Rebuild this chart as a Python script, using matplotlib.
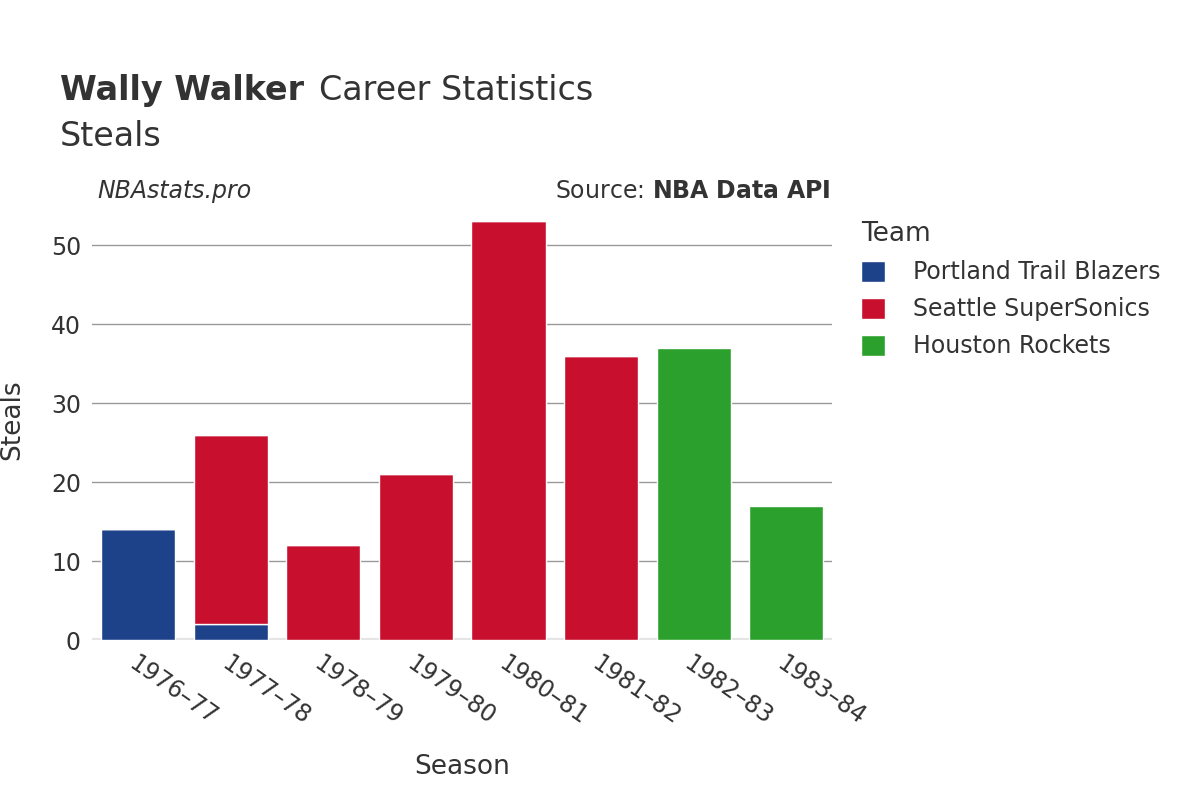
import matplotlib.pyplot as plt
import numpy as np

seasons = ['1976–77', '1977–78', '1978–79', '1979–80', '1980–81', '1981–82', '1982–83', '1983–84']
portland = [14, 2, 0, 0, 0, 0, 0, 0]
seattle = [0, 24, 12, 21, 53, 36, 0, 0]
houston = [0, 0, 0, 0, 0, 0, 37, 17]

teams = ['Portland Trail Blazers', 'Seattle SuperSonics', 'Houston Rockets']
colors = ['#1d428a', '#c8102e', '#2ca02c']

fig = plt.figure(figsize=(12, 8), dpi=100)
ax = fig.add_axes([0.0767, 0.2, 0.617, 0.55])

x = np.arange(len(seasons))
bottom = np.zeros(len(seasons))
for name, vals, col in zip(teams, [portland, seattle, houston], colors):
    vals = np.array(vals, dtype=float)
    ax.bar(x, vals, width=0.8, bottom=bottom, color=col, edgecolor='white',
           linewidth=1, label=name, zorder=3)
    bottom += vals

ax.set_xlim(-0.5, len(seasons) - 0.5)
ax.set_ylim(0, 55.7)
ax.set_yticks([0, 10, 20, 30, 40, 50])
ax.grid(axis='y', color='#999999', linewidth=1, zorder=0)
for s in ax.spines.values():
    s.set_visible(False)
ax.axhline(0, color='#e5e5e5', linewidth=3, zorder=2)
ax.tick_params(axis='both', length=0, labelsize=17, colors='#333333', pad=8)
ax.set_xticks(x)
ax.set_xticklabels(seasons, rotation=-35, ha='left', rotation_mode='anchor')
ax.set_xlabel('Season', fontsize=19, color='#333333', labelpad=18)
ax.set_ylabel('Steals', fontsize=19, color='#333333', labelpad=18)

fig.text(0.05, 0.875, 'Wally Walker', fontsize=24, fontweight='bold', color='#333333')
fig.text(0.266, 0.875, 'Career Statistics', fontsize=24, color='#333333')
fig.text(0.05, 0.818, 'Steals', fontsize=24, color='#333333')
fig.text(0.081, 0.752, 'NBAstats.pro', fontsize=17, style='italic', color='#333333')
fig.text(0.692, 0.752, 'Source: $\\bf{NBA\\ Data\\ API}$', fontsize=17, color='#333333', ha='right')

leg = ax.legend(title='Team', loc='upper left', bbox_to_anchor=(1.01, 1.0), frameon=False,
                fontsize=17, title_fontsize=19, handlelength=1, handleheight=1,
                labelspacing=0.55, handletextpad=1.2)
leg._legend_box.align = 'left'
for t in leg.get_texts():
    t.set_color('#333333')
leg.get_title().set_color('#333333')

fig.savefig('out.png', dpi=100)
